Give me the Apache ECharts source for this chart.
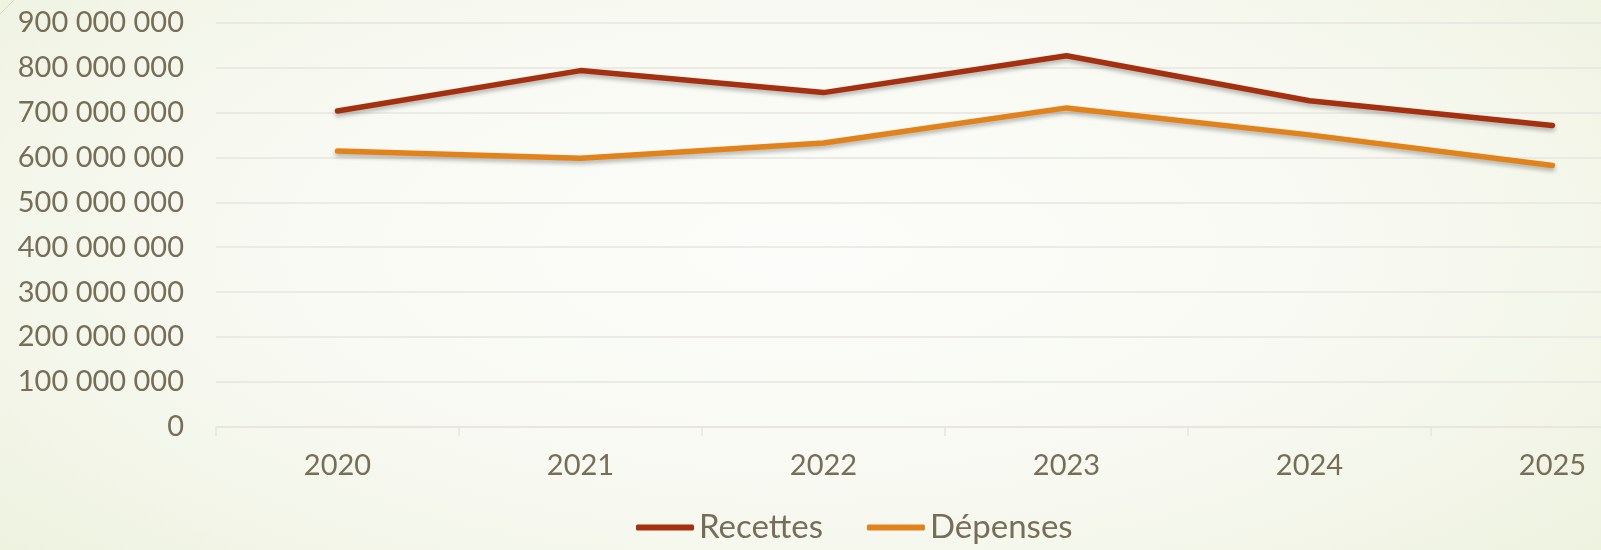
<!DOCTYPE html>
<html>
<head>
<meta charset="utf-8">
<script src="https://cdn.jsdelivr.net/npm/echarts@6/dist/echarts.min.js"></script>
<style>
  html, body { margin: 0; padding: 0; }
  body {
    width: 1601px; height: 550px; overflow: hidden;
    background: radial-gradient(ellipse 75% 95% at 50% 45%, #FCFDFA 0%, #F7F9F1 50%, #EBF0DA 100%);
  }
  /* the plot runs past the right edge of the picture, as in the original */
  #chart { width: 1680px; height: 550px; }
</style>
</head>
<body>
<div id="chart"></div>
<script>
// données
var years = ['2020', '2021', '2022', '2023', '2024', '2025'];
var recettes = [703000000, 793000000, 744000000, 826000000, 726000000, 671000000];
var depenses = [614000000, 598000000, 632000000, 710000000, 650000000, 582000000];

var textColor = '#776E57';
var gridColor = '#E7E5DF';
var font = 'Lato, "Open Sans", sans-serif';

var chart = echarts.init(document.getElementById('chart'));

// séparateur de milliers par espace
function fmt(v) {
  return String(v).replace(/\B(?=(\d{3})+(?!\d))/g, ' ');
}

var lineShadow = {
  shadowColor: 'rgba(0,0,0,0.28)',
  shadowBlur: 4,
  shadowOffsetY: 3
};

var option = {
  backgroundColor: 'transparent',
  animation: false,
  textStyle: { fontFamily: font },
  graphic: [{
    type: 'line',
    shape: { x1: 0, y1: 14, x2: 14, y2: 0 },
    style: { stroke: '#D6DBC6', lineWidth: 1 }
  }],
  grid: { left: 216, width: 1458, top: 22.5, bottom: 123, containLabel: false },
  legend: {
    data: ['Recettes', 'Dépenses'],
    bottom: 1,
    left: 631,
    icon: 'roundRect',
    itemWidth: 58,
    itemHeight: 6,
    itemGap: 44,
    textStyle: { color: textColor, fontSize: 33, fontFamily: font }
  },
  xAxis: {
    type: 'category',
    data: years,
    boundaryGap: true,
    axisLine: { lineStyle: { color: gridColor, width: 1.5 } },
    axisTick: { show: true, length: 9, lineStyle: { color: gridColor, width: 1.5 } },
    axisLabel: { color: textColor, fontSize: 29, margin: 24, fontFamily: font }
  },
  yAxis: {
    type: 'value',
    min: 0,
    max: 900000000,
    interval: 100000000,
    axisLine: { show: false },
    axisTick: { show: false },
    splitLine: { lineStyle: { color: gridColor, width: 1.5 } },
    axisLabel: { color: textColor, fontSize: 29, margin: 32, fontFamily: font, formatter: fmt }
  },
  series: [
    {
      name: 'Recettes',
      type: 'line',
      data: recettes,
      symbol: 'none',
      color: '#A5300F',
      lineStyle: Object.assign({ width: 5.5, color: '#A5300F', cap: 'round', join: 'round' }, lineShadow)
    },
    {
      name: 'Dépenses',
      type: 'line',
      data: depenses,
      symbol: 'none',
      color: '#E2821A',
      lineStyle: Object.assign({ width: 5.5, color: '#E2821A', cap: 'round', join: 'round' }, lineShadow)
    }
  ]
};

chart.setOption(option);
</script>
</body>
</html>
